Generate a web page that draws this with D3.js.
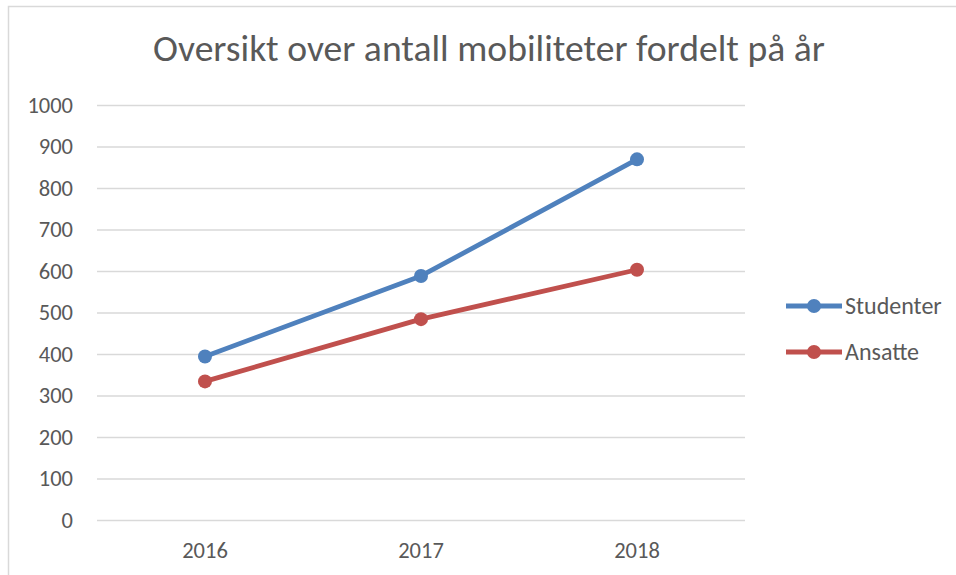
<!DOCTYPE html>
<html>
<head>
<meta charset="utf-8">
<script src="https://cdn.jsdelivr.net/npm/d3@7"></script>
<style>
  body { margin: 0; background: #fff; }
  svg { display: block; font-family: Carlito, "Open Sans", sans-serif; }
</style>
</head>
<body>
<div id="container"></div>
<script>
const w = 956;
const h = 575;
const plotL = 97;
const plotR = 745;
const plotT = 105;
const plotB = 520;
const textColor = "#595959";
const gridColor = "#d9d9d9";

const title = "Oversikt over antall mobiliteter fordelt på år";
const years = ["2016", "2017", "2018"];
const studenter = [394, 588, 869];
const ansatte = [334, 484, 603];
const yTicks = [0, 100, 200, 300, 400, 500, 600, 700, 800, 900, 1000];

const series = [
  { name: "Studenter", values: studenter, color: "#4f81bd" },
  { name: "Ansatte", values: ansatte, color: "#c0504d" }
];

const svg = d3
  .select("#container")
  .append("svg")
  .attr("width", w)
  .attr("height", h)
  .style("background-color", "#fff");

// chart area frame (runs off the right and bottom edges)
svg
  .append("rect")
  .attr("x", 8.5)
  .attr("y", 6.5)
  .attr("width", 980)
  .attr("height", 600)
  .attr("fill", "none")
  .attr("stroke", gridColor)
  .attr("stroke-width", 1.5);

const xScale = d3.scaleBand().domain(years).range([plotL, plotR]);
const yScale = d3.scaleLinear().domain([0, 1000]).range([plotB, plotT]);
const xPos = d => xScale(d) + xScale.bandwidth() / 2;

// gridlines + y labels
const yAxis = d3
  .axisLeft(yScale)
  .tickValues(yTicks)
  .tickSize(-(plotR - plotL))
  .tickPadding(24)
  .tickFormat(d3.format("d"));
const gy = svg
  .append("g")
  .attr("transform", `translate(${plotL}, 0)`)
  .call(yAxis)
  .attr("font-family", null)
  .attr("font-size", 22.5);
gy.select(".domain").remove();
gy.selectAll("line").attr("stroke", gridColor).attr("stroke-width", 1.5);
gy.selectAll("text").attr("fill", textColor);

// x labels
const xAxis = d3.axisBottom(xScale).tickSize(0).tickPadding(22);
const gx = svg
  .append("g")
  .attr("transform", `translate(0, ${plotB})`)
  .call(xAxis)
  .attr("font-family", null)
  .attr("font-size", 22.5);
gx.select(".domain").remove();
gx.selectAll("text").attr("fill", textColor);

// lines and markers
const line = d3
  .line()
  .x((d, i) => xPos(years[i]))
  .y(d => yScale(d));

series.forEach(s => {
  svg
    .append("path")
    .datum(s.values)
    .attr("d", line)
    .attr("fill", "none")
    .attr("stroke", s.color)
    .attr("stroke-width", 4.8)
    .attr("stroke-linejoin", "round")
    .attr("stroke-linecap", "round");
  svg
    .selectAll(null)
    .data(s.values)
    .enter()
    .append("circle")
    .attr("cx", (d, i) => xPos(years[i]))
    .attr("cy", d => yScale(d))
    .attr("r", 7)
    .attr("fill", s.color);
});

// legend
const legend = svg
  .selectAll(".legend")
  .data(series)
  .enter()
  .append("g")
  .attr("class", "legend")
  .attr("transform", (d, i) => `translate(786, ${306 + i * 46})`);
legend
  .append("line")
  .attr("x1", 0)
  .attr("x2", 56)
  .attr("stroke", d => d.color)
  .attr("stroke-width", 4.8);
legend
  .append("circle")
  .attr("cx", 28)
  .attr("r", 7)
  .attr("fill", d => d.color);
legend
  .append("text")
  .attr("x", 59)
  .attr("dy", "0.35em")
  .attr("fill", textColor)
  .style("font-size", "24px")
  .text(d => d.name);

// title, sized to the width it has in the reference
const t = svg
  .append("text")
  .attr("x", 489)
  .attr("y", 61)
  .attr("text-anchor", "middle")
  .attr("fill", textColor)
  .style("font-size", "32px")
  .text(title);
const tw = t.node().getComputedTextLength();
t.style("font-size", (32 * 672) / tw + "px");
</script>
</body>
</html>
